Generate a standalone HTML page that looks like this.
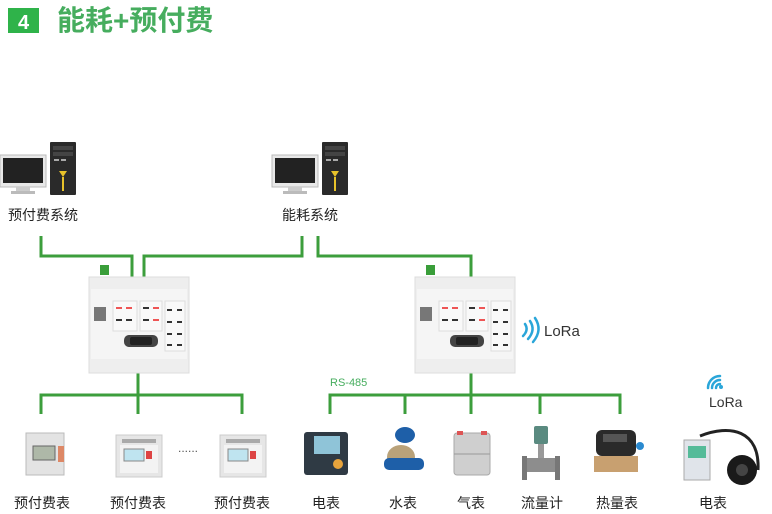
<!DOCTYPE html>
<html><head><meta charset="utf-8"><style>
html,body{margin:0;padding:0;background:#fff;width:772px;height:514px;overflow:hidden}
text{font-family:"Liberation Sans","Noto Sans CJK SC",sans-serif}
</style></head><body>
<svg width="772" height="514" viewBox="0 0 772 514" xmlns="http://www.w3.org/2000/svg">
<defs>
<g id="pc">
  <rect x="0" y="13" width="46" height="32" fill="#e8e8e8" stroke="#bbb"/>
  <rect x="3" y="16" width="40" height="25" fill="#222"/>
  <rect x="16" y="45" width="14" height="4" fill="#ccc"/>
  <rect x="11" y="49" width="24" height="3" fill="#bbb"/>
  <rect x="50" y="0" width="26" height="53" fill="#2a2a2a" rx="1"/>
  <rect x="53" y="4" width="20" height="4" fill="#444"/>
  <rect x="53" y="10" width="20" height="4" fill="#444"/>
  <rect x="54" y="17" width="5" height="2" fill="#aaa"/><rect x="61" y="17" width="5" height="2" fill="#aaa"/>
  <path d="M59 29 L67 29 L63 35 Z" fill="#e8c22a"/>
  <rect x="62" y="35" width="2" height="14" fill="#e8c22a"/>
</g>
<g id="dev">
  <rect x="0" y="12" width="100" height="96" fill="#eeeeee" stroke="#ddd"/>
  <rect x="2" y="24" width="96" height="70" fill="#f5f5f5"/>
  <rect x="11" y="0" width="9" height="10" fill="#3a9e3a"/>
  <rect x="5" y="42" width="12" height="14" fill="#777"/>
  <rect x="24" y="36" width="24" height="30" fill="#f9f9f9" stroke="#ddd"/>
  <rect x="27" y="42" width="6" height="2" fill="#e55"/><rect x="37" y="42" width="6" height="2" fill="#e55"/>
  <rect x="27" y="54" width="6" height="2" fill="#333"/><rect x="37" y="54" width="6" height="2" fill="#333"/>
  <rect x="51" y="36" width="22" height="30" fill="#f9f9f9" stroke="#ddd"/>
  <rect x="54" y="42" width="6" height="2" fill="#333"/><rect x="64" y="42" width="6" height="2" fill="#e55"/>
  <rect x="54" y="54" width="6" height="2" fill="#333"/><rect x="64" y="54" width="6" height="2" fill="#e55"/>
  <rect x="76" y="36" width="20" height="50" fill="#f9f9f9" stroke="#ddd"/>
  <g fill="#333"><rect x="78" y="44" width="5" height="2"/><rect x="88" y="44" width="5" height="2"/>
  <rect x="78" y="56" width="5" height="2"/><rect x="88" y="56" width="5" height="2"/>
  <rect x="78" y="68" width="5" height="2"/><rect x="88" y="68" width="5" height="2"/>
  <rect x="78" y="79" width="5" height="2"/><rect x="88" y="79" width="5" height="2"/></g>
  <rect x="35" y="70" width="34" height="12" rx="5" fill="#444"/>
  <rect x="41" y="72" width="22" height="8" rx="2" fill="#222"/>
</g>
<g id="pm">
  <rect x="0" y="0" width="46" height="42" fill="#e6e6e6" stroke="#ccc"/>
  <rect x="6" y="4" width="34" height="4" fill="#aaa"/>
  <rect x="4" y="10" width="38" height="28" fill="#f3f3f3"/>
  <rect x="8" y="14" width="20" height="12" fill="#bfe4f0" stroke="#888"/>
  <rect x="30" y="16" width="6" height="8" fill="#d44"/>
</g>
</defs>

<!-- title -->
<rect x="8" y="8" width="31" height="25" fill="#2fb34a"/>
<text x="23.5" y="29" font-size="20" fill="#fff" text-anchor="middle" font-weight="bold">4</text>
<text x="57" y="30" font-size="28" fill="#46ad5e" font-weight="bold">能耗+预付费</text>

<use href="#pc" x="0" y="142"/>
<use href="#pc" x="272" y="142"/>
<text x="43" y="220" font-size="14" text-anchor="middle" fill="#222">预付费系统</text>
<text x="310" y="220" font-size="14" text-anchor="middle" fill="#222">能耗系统</text>

<g stroke="#3c9e3c" stroke-width="3" fill="none">
  <path d="M41 236 V256 H132 V277"/>
  <path d="M144 277 V256 H302 V236"/>
  <path d="M318 236 V256 H471 V277"/>
  <path d="M138 373 V395 M41 414 V395 H242 V414 M138 395 V414"/>
  <path d="M471 373 V395 M330 414 V395 H620 V414 M405 395 V414 M471 395 V414 M540 395 V414"/>
</g>

<use href="#dev" x="89" y="265"/>
<use href="#dev" x="415" y="265"/>

<text x="330" y="386" font-size="11" fill="#46ad5e">RS-485</text>

<!-- LoRa 1 -->
<g stroke="#2aa6d9" stroke-width="2.5" fill="none" stroke-linecap="round">
  <path d="M525 324 Q529 330 523 336"/><path d="M530 321 Q536 330 528 339"/><path d="M535 318 Q543 330 533 342"/>
</g>
<text x="544" y="336" font-size="15" fill="#333">LoRa</text>
<!-- LoRa 2 -->
<g stroke="#2aa6d9" stroke-width="2.5" fill="none" stroke-linecap="round">
  <path d="M716 388 A4 4 0 0 1 720 384"/><path d="M712 388 A8 8 0 0 1 720 380"/><path d="M708 388 A12 12 0 0 1 720 376"/>
</g>
<circle cx="721" cy="387" r="2" fill="#2aa6d9"/>
<text x="709" y="407" font-size="14" fill="#333">LoRa</text>

<!-- bottom devices -->
<g>
  <rect x="26" y="433" width="38" height="42" fill="#e3e3e3" stroke="#bbb"/>
  <rect x="33" y="446" width="22" height="14" fill="#aeb8a8" stroke="#666"/>
  <rect x="58" y="446" width="6" height="16" fill="#d86"/>
</g>
<use href="#pm" x="116" y="435"/>
<text x="178" y="452" font-size="12" fill="#555">......</text>
<use href="#pm" x="220" y="435"/>
<g>
  <rect x="304" y="432" width="44" height="43" rx="3" fill="#2f3a44"/>
  <rect x="314" y="436" width="26" height="18" fill="#8fc4d8"/>
  <circle cx="338" cy="464" r="5" fill="#e8a43c"/>
</g>
<g>
  <ellipse cx="405" cy="435" rx="10" ry="8" fill="#1e5fa8"/>
  <ellipse cx="401" cy="457" rx="14" ry="12" fill="#b9a27a"/>
  <rect x="384" y="458" width="40" height="12" rx="5" fill="#1e5fa8"/>
</g>
<g>
  <rect x="454" y="433" width="36" height="42" rx="3" fill="#cfcfcf" stroke="#aaa"/>
  <rect x="457" y="431" width="6" height="4" fill="#d55"/><rect x="481" y="431" width="6" height="4" fill="#d55"/>
  <line x1="454" y1="454" x2="490" y2="454" stroke="#999"/>
</g>
<g>
  <rect x="534" y="426" width="14" height="18" rx="2" fill="#5a8a80"/>
  <rect x="538" y="444" width="6" height="18" fill="#999"/>
  <rect x="522" y="458" width="38" height="14" fill="#8d8d8d"/>
  <rect x="522" y="456" width="5" height="24" fill="#777"/><rect x="555" y="456" width="5" height="24" fill="#777"/>
</g>
<g>
  <rect x="596" y="430" width="40" height="26" rx="6" fill="#2a2a2a"/>
  <rect x="603" y="434" width="24" height="8" fill="#555"/>
  <rect x="594" y="456" width="44" height="16" fill="#c8a070"/>
  <circle cx="640" cy="446" r="4" fill="#2a8ad0"/>
</g>
<g>
  <rect x="684" y="440" width="26" height="40" fill="#e0e4ea" stroke="#aaa"/>
  <rect x="688" y="446" width="18" height="12" fill="#5b9"/>
  <path d="M700 436 C730 424 760 430 758 470" stroke="#222" stroke-width="3" fill="none"/>
  <circle cx="742" cy="470" r="15" fill="#1a1a1a"/>
  <circle cx="742" cy="470" r="6" fill="#444"/>
</g>

<g font-size="14" fill="#222" text-anchor="middle">
  <text x="42" y="508">预付费表</text>
  <text x="138" y="508">预付费表</text>
  <text x="242" y="508">预付费表</text>
  <text x="326" y="508">电表</text>
  <text x="403" y="508">水表</text>
  <text x="471" y="508">气表</text>
  <text x="542" y="508">流量计</text>
  <text x="617" y="508">热量表</text>
  <text x="713" y="508">电表</text>
</g>
</svg>
</body></html>
